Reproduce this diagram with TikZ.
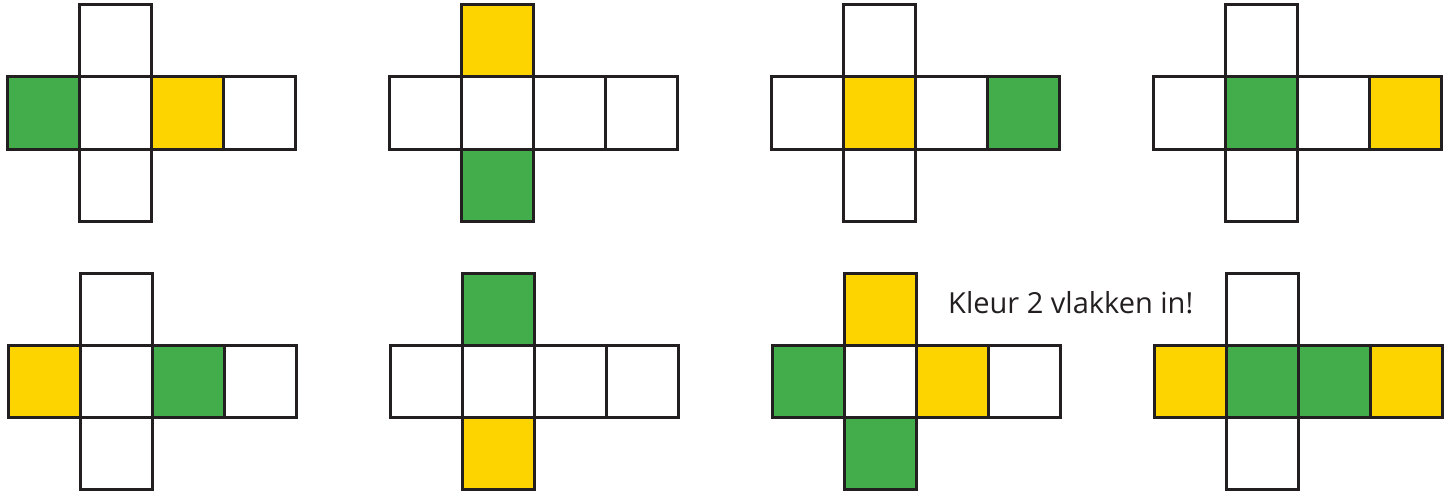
\documentclass[tikz,border=0pt]{standalone}
\usepackage{fontspec}
\setmainfont{Open Sans}
\definecolor{gr}{HTML}{42AD4A}
\definecolor{ye}{HTML}{FDD400}
\definecolor{ln}{HTML}{231F20}
\newcommand\cubenet[8]{%
  \begin{scope}[shift={(#1,#2)}]
    \filldraw[sq,fill=#3] (72,0) rectangle ++(72,72);
    \filldraw[sq,fill=#4] (0,72) rectangle ++(72,72);
    \filldraw[sq,fill=#5] (72,72) rectangle ++(72,72);
    \filldraw[sq,fill=#6] (144,72) rectangle ++(72,72);
    \filldraw[sq,fill=#7] (216,72) rectangle ++(72,72);
    \filldraw[sq,fill=#8] (72,144) rectangle ++(72,72);
  \end{scope}}
\begin{document}
\begin{tikzpicture}[x=1pt,y=-1pt,sq/.style={draw=ln,line width=3pt,line join=miter}]
\useasboundingbox[fill=white] (0,0) rectangle (1453,492);
\cubenet{7}{5}{white}{gr}{white}{ye}{white}{white}
\cubenet{389}{5}{ye}{white}{white}{white}{white}{gr}
\cubenet{771}{5}{white}{white}{ye}{white}{gr}{white}
\cubenet{1153}{5}{white}{white}{gr}{white}{ye}{white}
\cubenet{8}{273}{white}{ye}{white}{gr}{white}{white}
\cubenet{390}{273}{gr}{white}{white}{white}{white}{ye}
\cubenet{772}{273}{ye}{gr}{white}{ye}{white}{gr}
\cubenet{1154}{273}{white}{ye}{gr}{gr}{ye}{white}
\node[anchor=base west,inner sep=0pt,text=ln,font=\fontsize{29}{34}\selectfont] (lbl) at (948,313) {Kleur 2 vlakken in!};
\end{tikzpicture}
\end{document}
